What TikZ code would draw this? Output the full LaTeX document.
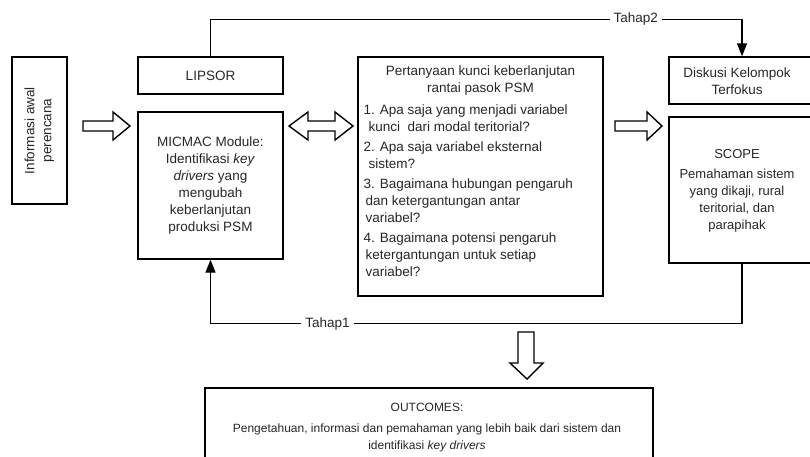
\documentclass[tikz,border=0pt]{standalone}
\usepackage{fontspec}
\setmainfont{Liberation Sans}
\usetikzlibrary{arrows.meta}

\begin{document}
\begin{tikzpicture}[x=1pt, y=-1pt, >={Triangle[length=13pt,width=10pt]}, line width=1.4pt,
        box/.style={draw, inner sep=0pt},
        txt/.style={font=\fontsize{13.5}{17}\selectfont, align=center, inner sep=0pt, text=black!85},
        tahap/.style={fill=white, inner xsep=4pt, inner ysep=1pt, font=\fontsize{13.5}{17}\selectfont, text=black!85}]
        \clip (0,0) rectangle (810,457);
        \node[box, txt, rotate=90, minimum width=147pt, minimum height=55pt] (info) at (39.5,130.5) {Informasi awal\\perencana};
        \node[box, txt, minimum width=145pt, minimum height=37pt] (lipsor) at (210.5,75.5) {LIPSOR};
        \node[box, txt, minimum width=145pt, minimum height=147pt] (micmac) at (210.5,185.5) {MICMAC Module:\\Identifikasi \textit{key}\\\textit{drivers} yang\\mengubah\\keberlanjutan\\produksi PSM};
        \node[box, minimum width=245pt, minimum height=239pt] (pq) at (480.5,176.5) {};
        \node[txt] (pqhead) at (480.5,80.5) {Pertanyaan kunci keberlanjutan\\rantai pasok PSM};
        \node[txt, align=left, anchor=west] (pqlist) at (363,190.5) {1. Apa saja yang menjadi variabel\\\hspace*{5pt}kunci\ \ dari modal teritorial?\\[3pt]
            2. Apa saja variabel eksternal\\\hspace*{5pt}sistem?\\[3pt]
            3. Bagaimana hubungan pengaruh\\\hspace*{2pt}dan ketergantungan antar\\\hspace*{2pt}variabel?\\[3pt]
            4. Bagaimana potensi pengaruh\\\hspace*{2pt}ketergantungan untuk setiap\\\hspace*{2pt}variabel?};
        \node[box, minimum width=146pt, minimum height=47pt] (diskusi) at (742,80.5) {};
        \node[txt] (diskusitxt) at (737,81) {Diskusi Kelompok\\Terfokus};
        \node[box, minimum width=146pt, minimum height=146pt] (scope) at (742,190) {};
        \node[txt, font=\fontsize{13}{17}\selectfont] (scopetxt) at (737,191) {SCOPE\\[3pt]Pemahaman sistem\\yang dikaji, rural\\teritorial, dan\\parapihak};
        \node[box, minimum width=448pt, minimum height=82pt] (outcomes) at (429,429) {};
        \node[txt, font=\fontsize{12}{17}\selectfont] (outtxt) at (427,428) {OUTCOMES:\\[4pt]Pengetahuan, informasi dan pemahaman yang lebih baik dari sistem dan\\identifikasi \textit{key drivers}};
        \draw (83,121) -- (113,121) -- (113,112) -- (130,126) -- (113,140) -- (113,131) -- (83,131) -- cycle;
        \draw (289,126) -- (308,112) -- (308,121) -- (335,121) -- (335,112) -- (353,126) -- (335,140) -- (335,131) -- (308,131) -- (308,140) -- cycle;
        \draw (615,121) -- (647,121) -- (647,112) -- (662,126) -- (647,140) -- (647,131) -- (615,131) -- cycle;
        \draw (518,332) -- (534,332) -- (534,363) -- (543,363) -- (527,379) -- (510,363) -- (518,363) -- cycle;
        \draw[->] (lipsor.north) -- ++(0,-37) -| (diskusi.north) node[tahap, pos=0.4] {Tahap2};
        \draw[->] (scope.south) -- ++(0,60) -| (micmac.south) node[tahap, pos=0.39] {Tahap1};
    \end{tikzpicture}
\end{document}
